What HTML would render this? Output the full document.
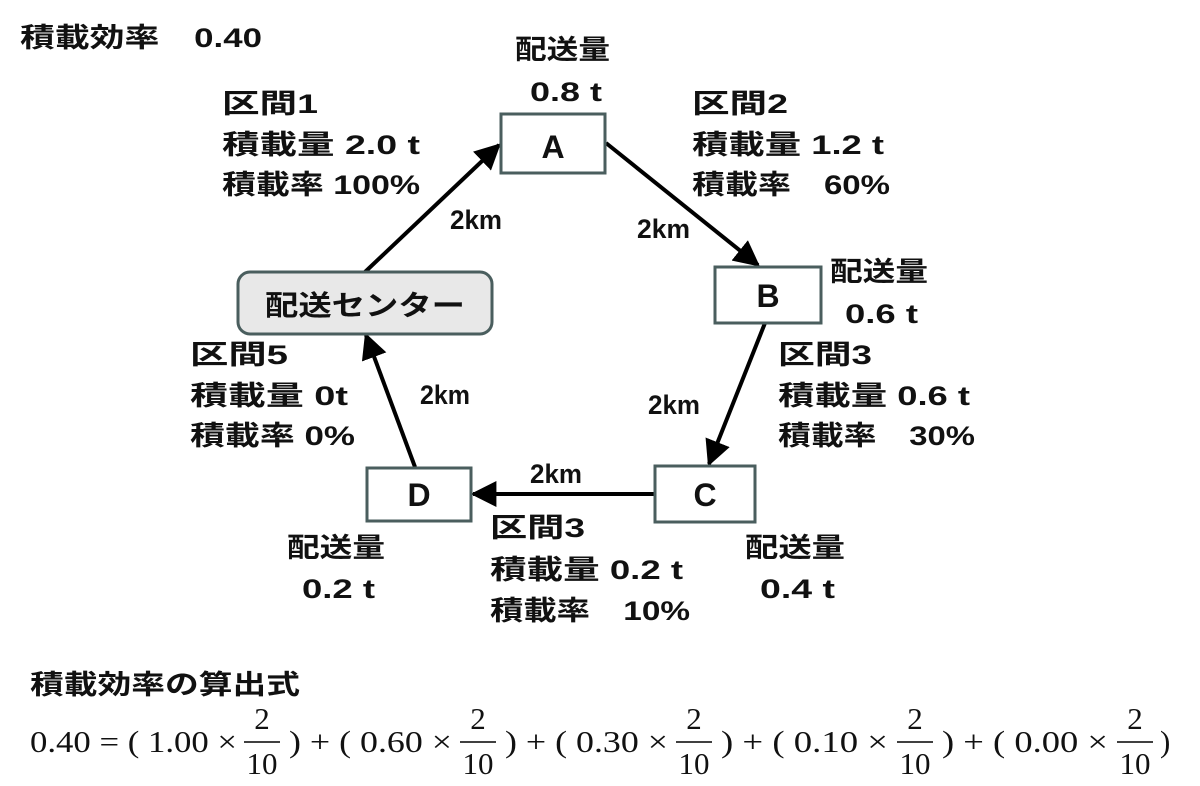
<!DOCTYPE html>
<html><head><meta charset="utf-8"><style>
body{margin:0;background:#fff;width:1200px;height:781px;overflow:hidden}
svg text{font-family:"Liberation Sans","Noto Sans CJK JP",sans-serif;font-weight:bold;fill:#111}
.m{font-family:"Liberation Serif",serif;font-weight:normal;font-size:31px}
</style></head><body>
<svg width="1200" height="781" viewBox="0 0 1200 781">
<defs>
<marker id="a" viewBox="0 0 10 10" refX="9" refY="5" markerWidth="26" markerHeight="26" markerUnits="userSpaceOnUse" orient="auto"><path d="M0,0L10,5L0,10z" fill="#000"/></marker></defs>
<g stroke="#000" stroke-width="4" fill="none">
<line x1="365" y1="272" x2="499" y2="145" marker-end="url(#a)"/>
<line x1="606" y1="143" x2="758" y2="265" marker-end="url(#a)"/>
<line x1="765" y1="323" x2="709" y2="464" marker-end="url(#a)"/>
<line x1="654" y1="494" x2="473" y2="494" marker-end="url(#a)"/>
<line x1="415" y1="467" x2="366" y2="335" marker-end="url(#a)"/>
</g>
<g stroke="#4a5e5e" stroke-width="3" fill="#fff">
<rect x="501" y="114" width="104" height="59"/>
<rect x="715" y="267" width="106" height="56"/>
<rect x="655" y="466" width="100" height="56"/>
<rect x="367" y="468" width="104" height="53"/>
<rect x="238" y="272" width="254" height="62" rx="12" fill="#e8e8e8"/>
</g>
<g font-size="32" text-anchor="middle">
<text x="553" y="158">A</text><text x="768" y="307">B</text><text x="705" y="506">C</text><text x="419" y="506">D</text>
<text x="365" y="315" font-size="28" textLength="200" lengthAdjust="spacingAndGlyphs">配送センター</text>
</g>
<g font-size="27">
<text x="20" y="47" textLength="242" lengthAdjust="spacingAndGlyphs">積載効率　0.40</text>
<text x="515" y="59" textLength="95" lengthAdjust="spacingAndGlyphs">配送量</text><text x="530" y="101" textLength="72" lengthAdjust="spacingAndGlyphs">0.8 t</text>
<text x="222" y="113" textLength="96" lengthAdjust="spacingAndGlyphs">区間1</text><text x="222" y="154" textLength="198" lengthAdjust="spacingAndGlyphs">積載量 2.0 t</text><text x="222" y="194" textLength="198" lengthAdjust="spacingAndGlyphs">積載率 100%</text>
<text x="692" y="113" textLength="96" lengthAdjust="spacingAndGlyphs">区間2</text><text x="692" y="154" textLength="192" lengthAdjust="spacingAndGlyphs">積載量 1.2 t</text><text x="692" y="194" textLength="198" lengthAdjust="spacingAndGlyphs">積載率　60%</text>
<text x="450" y="229" textLength="52" lengthAdjust="spacingAndGlyphs">2km</text><text x="637" y="238" textLength="53" lengthAdjust="spacingAndGlyphs">2km</text>
<text x="830" y="281" textLength="98" lengthAdjust="spacingAndGlyphs">配送量</text><text x="845" y="323" textLength="73" lengthAdjust="spacingAndGlyphs">0.6 t</text>
<text x="778" y="364" textLength="94" lengthAdjust="spacingAndGlyphs">区間3</text><text x="778" y="405" textLength="192" lengthAdjust="spacingAndGlyphs">積載量 0.6 t</text><text x="778" y="445" textLength="197" lengthAdjust="spacingAndGlyphs">積載率　30%</text>
<text x="648" y="414" textLength="52" lengthAdjust="spacingAndGlyphs">2km</text><text x="420" y="404" textLength="50" lengthAdjust="spacingAndGlyphs">2km</text><text x="530" y="483" textLength="52" lengthAdjust="spacingAndGlyphs">2km</text>
<text x="190" y="364" textLength="98" lengthAdjust="spacingAndGlyphs">区間5</text><text x="190" y="405" textLength="158" lengthAdjust="spacingAndGlyphs">積載量 0t</text><text x="190" y="445" textLength="165" lengthAdjust="spacingAndGlyphs">積載率 0%</text>
<text x="287" y="557" textLength="98" lengthAdjust="spacingAndGlyphs">配送量</text><text x="302" y="598" textLength="73" lengthAdjust="spacingAndGlyphs">0.2 t</text>
<text x="490" y="537" textLength="95" lengthAdjust="spacingAndGlyphs">区間3</text><text x="490" y="579" textLength="193" lengthAdjust="spacingAndGlyphs">積載量 0.2 t</text><text x="490" y="620" textLength="200" lengthAdjust="spacingAndGlyphs">積載率　10%</text>
<text x="745" y="557" textLength="100" lengthAdjust="spacingAndGlyphs">配送量</text><text x="760" y="598" textLength="75" lengthAdjust="spacingAndGlyphs">0.4 t</text>
<text x="30" y="694" textLength="270" lengthAdjust="spacingAndGlyphs">積載効率の算出式</text>
</g>
<g>
<text x="30" y="752" class="m" textLength="207" lengthAdjust="spacingAndGlyphs">0.40 = ( 1.00 ×</text>
<text x="262" y="729" class="m" text-anchor="middle">2</text><line x1="244" y1="742" x2="280" y2="742" stroke="#000" stroke-width="1.5"/><text x="262" y="774" class="m" text-anchor="middle">10</text>
<text x="289" y="752" class="m" textLength="163" lengthAdjust="spacingAndGlyphs">) + ( 0.60 ×</text>
<text x="478" y="729" class="m" text-anchor="middle">2</text><line x1="460" y1="742" x2="496" y2="742" stroke="#000" stroke-width="1.5"/><text x="478" y="774" class="m" text-anchor="middle">10</text>
<text x="505" y="752" class="m" textLength="163" lengthAdjust="spacingAndGlyphs">) + ( 0.30 ×</text>
<text x="694" y="729" class="m" text-anchor="middle">2</text><line x1="676" y1="742" x2="712" y2="742" stroke="#000" stroke-width="1.5"/><text x="694" y="774" class="m" text-anchor="middle">10</text>
<text x="721" y="752" class="m" textLength="167" lengthAdjust="spacingAndGlyphs">) + ( 0.10 ×</text>
<text x="915" y="729" class="m" text-anchor="middle">2</text><line x1="897" y1="742" x2="933" y2="742" stroke="#000" stroke-width="1.5"/><text x="915" y="774" class="m" text-anchor="middle">10</text>
<text x="942" y="752" class="m" textLength="166" lengthAdjust="spacingAndGlyphs">) + ( 0.00 ×</text>
<text x="1135" y="729" class="m" text-anchor="middle">2</text><line x1="1117" y1="742" x2="1153" y2="742" stroke="#000" stroke-width="1.5"/><text x="1135" y="774" class="m" text-anchor="middle">10</text>
<text x="1160" y="752" class="m">)</text>
</g>
</svg>
</body></html>
